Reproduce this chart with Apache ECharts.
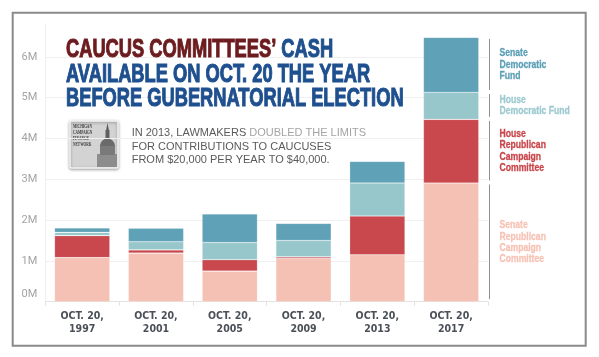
<!DOCTYPE html>
<html><head><meta charset="utf-8">
<script src="https://cdn.jsdelivr.net/npm/echarts@6/dist/echarts.min.js"></script>
<style>html,body{margin:0;padding:0;background:#fff}#c{width:599px;height:357px}</style>
</head><body><div id="c"></div>
<script>
// ---- data ----
const categories = ['OCT. 20,\n1997', 'OCT. 20,\n2001', 'OCT. 20,\n2005', 'OCT. 20,\n2009', 'OCT. 20,\n2013', 'OCT. 20,\n2017'];
const seriesNames = ['Senate Republican Campaign Committee', 'House Republican Campaign Committee', 'House Democratic Fund', 'Senate Democratic Fund'];
const legendLabels = ['Senate\nRepublican\nCampaign\nCommittee', 'House\nRepublican\nCampaign\nCommittee', 'House\nDemocratic Fund', 'Senate\nDemocratic\nFund'];
const senateRepublican = [1.08, 1.19, 0.75, 1.06, 1.15, 2.91];
const houseRepublican  = [0.54, 0.08, 0.28, 0.04, 0.95, 1.56];
const houseDemocratic  = [0.08, 0.20, 0.42, 0.40, 0.81, 0.66];
const senateDemocratic = [0.11, 0.33, 0.70, 0.42, 0.53, 1.35];
const yTickLabels = ['0M', '1M', '2M', '3M', '4M', '5M', '6M'];
const titleLines = ['CAUCUS COMMITTEES\u2019 ', 'CASH', 'AVAILABLE ON OCT. 20 THE YEAR', 'BEFORE GUBERNATORIAL ELECTION'];
const noteParts = ['IN 2013, LAWMAKERS ', 'DOUBLED THE LIMITS', 'FOR CONTRIBUTIONS TO CAUCUSES', 'FROM $20,000 PER YEAR TO $40,000.'];
const logoLines = ['MICHIGAN', 'CAMPAIGN', 'FINANCE', 'NETWORK'];

// ---- styles ----
const barColors = ['#f5c1b4', '#c8484d', '#97c6cb', '#5fa1b6'];
const labelColors = ['#f6c2b5', '#c8464b', '#9dcad0', '#5b9fb6'];
const narrow = '"DejaVu Sans Condensed", "Liberation Sans", sans-serif';
const boldSans = '"Liberation Sans", Arial, sans-serif';

const stacks = [senateRepublican, houseRepublican, houseDemocratic, senateDemocratic];
const last = categories.length - 1;
let acc = 0;
const annot = stacks.map((s, i) => { const a = acc; acc += s[last]; return [last, a, acc, i]; });

const chart = echarts.init(document.getElementById('c'), null, {renderer: 'canvas'});

const barSeries = stacks.map((s, i) => ({
  name: seriesNames[i], type: 'bar', stack: 'total', data: s,
  barWidth: '75%',
  itemStyle: {color: barColors[i], borderColor: 'rgba(255,255,255,0.35)', borderWidth: 0.6},
  emphasis: {disabled: true}, z: 2
}));

chart.setOption({
  animation: false,
  backgroundColor: '#fff',
  grid: {left: 45.3, right: 111, top: 24.3, bottom: 55.3},
  xAxis: {
    type: 'category', data: categories,
    axisLine: {show: true, lineStyle: {color: '#e2e2e2'}},
    axisTick: {show: true, length: 4, lineStyle: {color: '#e2e2e2'}},
    axisLabel: {margin: 8, color: '#4b5058', fontFamily: narrow, fontWeight: 'bold', fontSize: 10.5, lineHeight: 13}
  },
  yAxis: {
    type: 'value', min: 0, max: 6.8, interval: 1,
    axisLine: {show: true, lineStyle: {color: '#efefef'}},
    axisTick: {show: false},
    splitLine: {show: true, showMaxLine: false, lineStyle: {color: '#f0f0f0'}},
    axisLabel: {
      showMaxLabel: false, margin: 8, color: '#a3a3a3', fontSize: 11, fontFamily: 'Roboto, "Liberation Sans", sans-serif',
      formatter: v => { const t = yTickLabels[Math.round(v)] || ''; return v === 0 ? '{z|' + t + '}' : t; },
      rich: {z: {padding: [0, 0, 14, 0], color: '#a3a3a3', fontSize: 11, fontFamily: 'Roboto, "Liberation Sans", sans-serif'}}
    }
  },
  series: barSeries.concat([{
    type: 'custom', clip: false, silent: true, z: 3,
    encode: {x: 0, y: [1, 2]},
    data: annot,
    renderItem: (params, api) => {
      const c = api.value(0), v0 = api.value(1), v1 = api.value(2), i = api.value(3);
      const pb = api.coord([c, v0]), pt = api.coord([c, v1]);
      const bw = api.size([1, 0])[0];
      const x = pb[0] + bw / 2 + 1.5;
      return {type: 'group', children: [
        {type: 'line', shape: {x1: x, y1: pt[1] + 1.5, x2: x, y2: pb[1] - 2.5}, style: {stroke: '#8f8f8f', lineWidth: 1}},
        {type: 'text', x: x + 10, y: (pt[1] + pb[1]) / 2, scaleX: 0.82,
         style: {text: legendLabels[i], fill: labelColors[i], stroke: labelColors[i], lineWidth: 0.3,
                 font: 'bold 10.5px ' + boldSans, lineHeight: 11.3, verticalAlign: 'middle', align: 'left'}}
      ]};
    }
  }]),
  graphic: [
    {type: 'rect', shape: {x: 12.7, y: 12.7, width: 573, height: 333}, style: {fill: 'none', stroke: '#8a8a8a', lineWidth: 2}, z: 10},
    {type: 'text', x: 66, y: 37.4, scaleX: 0.69, z: 10,
     style: {
       text: '{r|' + titleLines[0] + '}{b|' + titleLines[1] + '}\n{b|' + titleLines[2] + '}\n{b|' + titleLines[3] + '}',
       font: 'bold 26.5px ' + boldSans, lineHeight: 24.7, verticalAlign: 'top',
       rich: {
         r: {fill: '#6c1c1f', stroke: '#6c1c1f', lineWidth: 1.1, font: 'bold 26.5px ' + boldSans, lineHeight: 24.7},
         b: {fill: '#1e4f8e', stroke: '#1e4f8e', lineWidth: 1.1, font: 'bold 26.5px ' + boldSans, lineHeight: 24.7}
       }
     }},
    {type: 'text', x: 131.7, y: 126.6, z: 10,
     style: {
       text: '{a|' + noteParts[0] + '}{g|' + noteParts[1] + '}\n{a|' + noteParts[2] + '}\n{a|' + noteParts[3] + '}',
       verticalAlign: 'top', lineHeight: 13.4,
       rich: {
         a: {fill: '#5a5a5a', font: '11px "Liberation Sans", Arial, sans-serif', lineHeight: 13.4},
         g: {fill: '#a4a4a4', font: '11px "Liberation Sans", Arial, sans-serif', lineHeight: 13.4}
       }
     }},
    {type: 'group', x: 70, y: 121, z: 10, children: [
      {type: 'rect', shape: {x: 0, y: 0, width: 48, height: 47, r: 1.5}, style: {fill: '#d3d3d3', stroke: '#f4f4f4', lineWidth: 1.5, shadowBlur: 3, shadowColor: 'rgba(0,0,0,0.35)', shadowOffsetY: 1}},
      {type: 'rect', shape: {x: 27, y: 33, width: 20, height: 13}, style: {fill: '#8d8d8d'}},
      {type: 'rect', shape: {x: 30, y: 24, width: 15, height: 10}, style: {fill: '#7a7a7a'}},
      {type: 'sector', shape: {cx: 37.5, cy: 25, r0: 0, r: 7.5, startAngle: Math.PI, endAngle: 2 * Math.PI}, style: {fill: '#6a6a6a'}},
      {type: 'rect', shape: {x: 35.5, y: 9, width: 4, height: 9}, style: {fill: '#5f5f5f'}},
      {type: 'polygon', shape: {points: [[37.5, 2], [36.2, 9], [38.8, 9]]}, style: {fill: '#555'}},
      {type: 'text', x: 3, y: 14.7, scaleX: 0.62,
       style: {text: logoLines.join('\n'), fill: '#3a3a3a', font: 'bold 5.6px "Liberation Serif", "DejaVu Serif", serif', lineHeight: 5.9, verticalAlign: 'middle'}}
    ]}
  ]
});
</script></body></html>
